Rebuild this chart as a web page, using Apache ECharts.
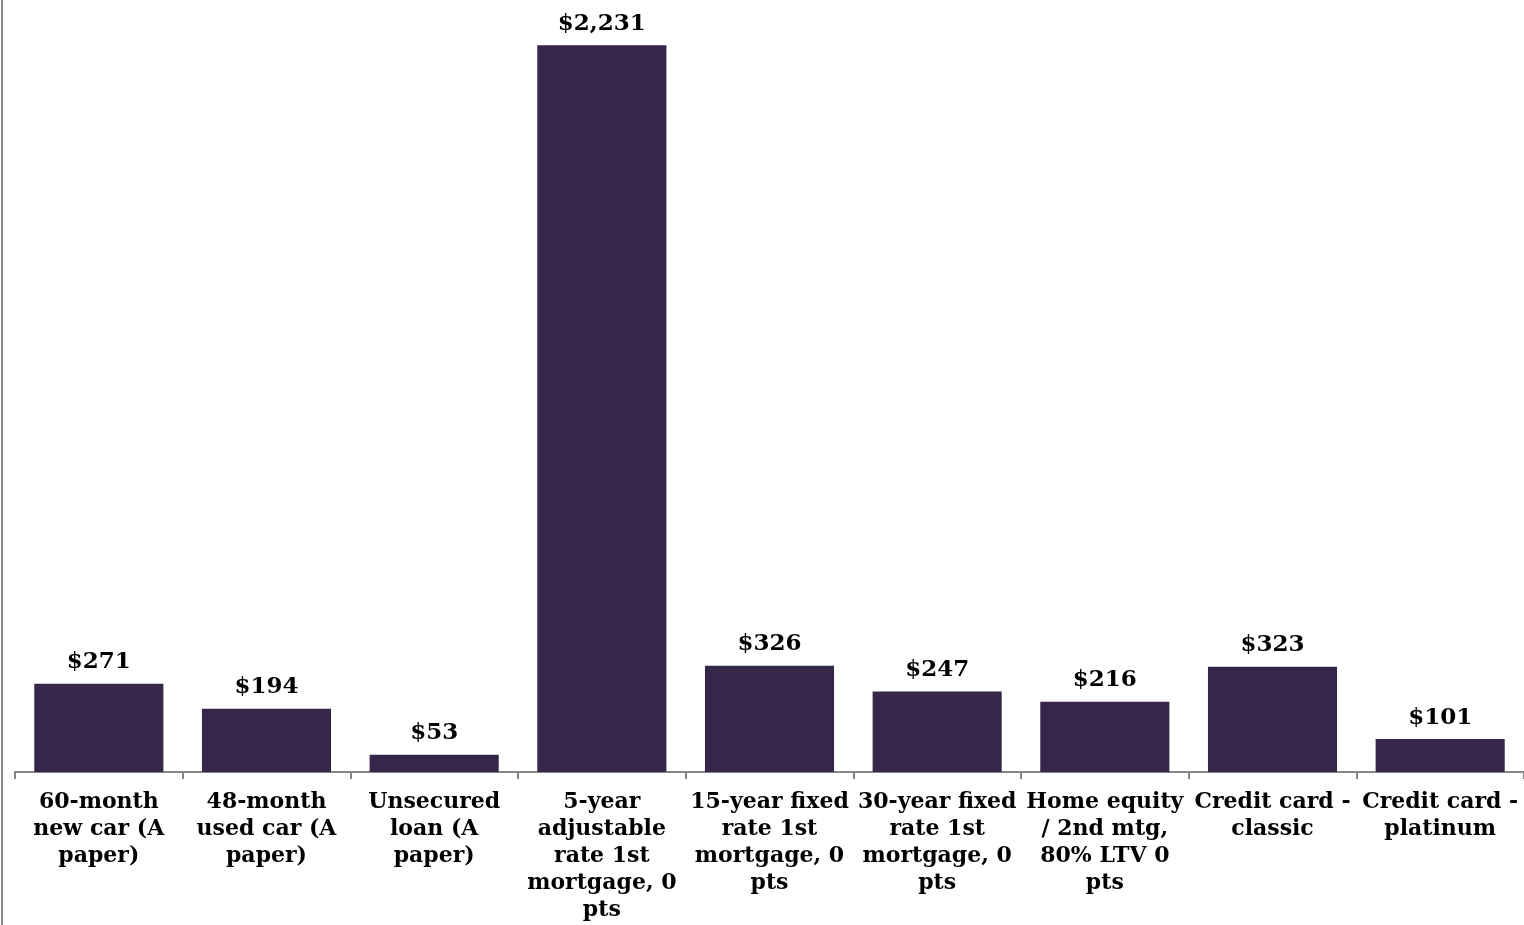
<!DOCTYPE html>
<html>
<head>
<meta charset="utf-8">
<script src="https://cdn.jsdelivr.net/npm/echarts@6/dist/echarts.min.js"></script>
<style>
  html, body { margin: 0; padding: 0; background: #fff; }
  #chart { width: 1524px; height: 925px; }
</style>
</head>
<body>
<div id="chart"></div>
<script>
// Loan product categories (line breaks as set in the axis labels)
const categories = [
  '60-month\nnew car (A\npaper)',
  '48-month\nused car (A\npaper)',
  'Unsecured\nloan (A\npaper)',
  '5-year\nadjustable\nrate 1st\nmortgage, 0\npts',
  '15-year fixed\nrate 1st\nmortgage, 0\npts',
  '30-year fixed\nrate 1st\nmortgage, 0\npts',
  'Home equity\n/ 2nd mtg,\n80% LTV 0\npts',
  'Credit card -\nclassic',
  'Credit card -\nplatinum'
];

// Dollar value per product
const values = [271, 194, 53, 2231, 326, 247, 216, 323, 101];

const FONT = '"DejaVu Serif", Georgia, serif';

const chart = echarts.init(document.getElementById('chart'), null, { renderer: 'canvas' });

chart.setOption({
  animation: false,
  backgroundColor: '#ffffff',
  grid: { left: 15, top: 0, width: 1512, height: 772 },
  xAxis: {
    type: 'category',
    data: categories,
    axisLine: { show: true, lineStyle: { color: '#868686', width: 2 } },
    axisTick: { show: true, length: 7, alignWithLabel: false, lineStyle: { color: '#868686', width: 2 } },
    axisLabel: {
      interval: 0,
      margin: 17,
      color: '#000',
      fontFamily: FONT,
      fontWeight: 'bold',
      fontSize: 22,
      lineHeight: 27
    }
  },
  yAxis: {
    type: 'value',
    min: 0,
    max: 2370,
    show: false,
    splitLine: { show: false }
  },
  series: [{
    type: 'bar',
    data: values,
    barCategoryGap: '23%',
    itemStyle: { color: '#36264a' },
    label: {
      show: true,
      position: 'top',
      distance: 10,
      color: '#000',
      fontFamily: FONT,
      fontWeight: 'bold',
      fontSize: 23,
      formatter: p => '$' + p.value.toLocaleString('en-US')
    }
  }],
  graphic: [{
    type: 'line',
    shape: { x1: 2, y1: 0, x2: 2, y2: 925 },
    style: { stroke: '#8a8a8a', lineWidth: 2 }
  }]
});
</script>
</body>
</html>
